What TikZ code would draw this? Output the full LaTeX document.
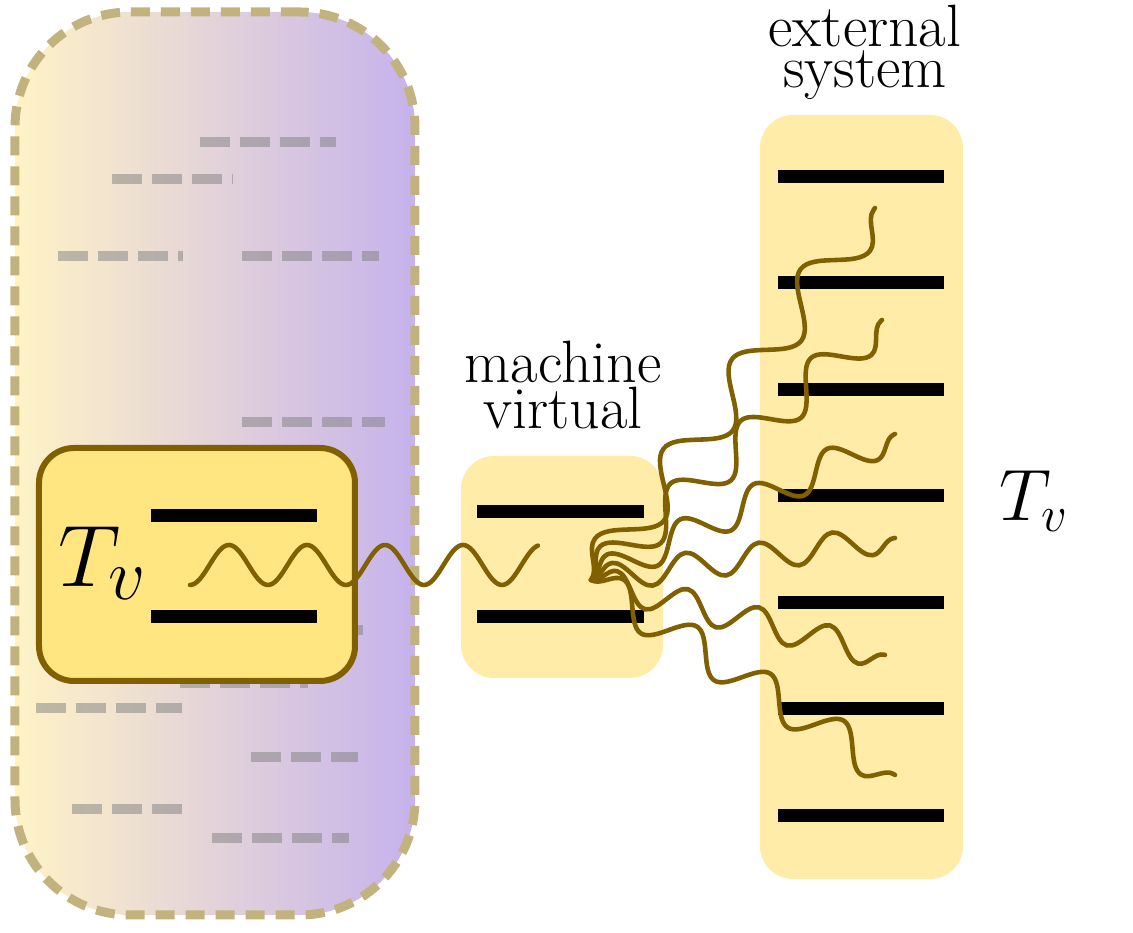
\documentclass[tikz,border=0pt]{standalone}
\usepackage{amsmath}
\usepackage{tikz}
\usetikzlibrary{decorations.pathmorphing}
\definecolor{wavebrown}{HTML}{806000}
\definecolor{hulldash}{HTML}{C2B27E}
\definecolor{boxgold}{HTML}{FFE680}
\definecolor{boxpale}{HTML}{FFECA8}
\definecolor{hullleft}{HTML}{FFF3C6}
\definecolor{hullright}{HTML}{C6B2EC}

\begin{document}
\begin{tikzpicture}[
  level/.style={line width=0.13cm},
  ghost/.style={draw=black!50,draw opacity=0.5,line width=0.1cm,dash pattern=on 0.3cm off 0.1cm},
  photon/.style={draw=wavebrown,line width=1.3pt,line cap=round},
  palebox/.style={rectangle,rounded corners=0.33cm,fill=boxpale,inner sep=0pt},
  caption/.style={align=center,font=\fontsize{17}{11.6}\selectfont,inner sep=0pt}]
  \useasboundingbox (0,0) rectangle (11.33,9.33);
  % reservoir with faded levels
  \node[rectangle,rounded corners=1.15cm,minimum width=4cm,minimum height=9.03cm,
    left color=hullleft,right color=hullright,draw=hulldash,line width=0.09cm,
    dash pattern=on 0.19cm off 0.11cm] (bath) at (2.15,4.695) {};
  \foreach \xa/\xb/\y in {2.00/3.36/7.91, 1.12/2.33/7.54, 0.58/1.83/6.77,
      2.42/3.79/6.77, 2.42/3.85/5.11, 2.30/3.63/3.03, 1.80/3.08/2.50,
      0.36/1.82/2.25, 2.51/3.58/1.76, 0.72/1.82/1.24, 2.12/3.49/0.95}
    \draw[ghost] (\xa,\y) -- (\xb,\y);
  % boxes
  \node[rectangle,rounded corners=0.35cm,minimum width=3.16cm,minimum height=2.33cm,
    fill=boxgold,draw=wavebrown,line width=0.06cm] (sys) at (1.97,3.685) {};
  \node[palebox,minimum width=2.02cm,minimum height=2.22cm] (vm) at (5.62,3.66) {};
  \node[palebox,minimum width=2.03cm,minimum height=7.64cm] (ext) at (8.615,4.36) {};
  % levels
  \draw[level] (1.51,4.17) -- (3.17,4.17);
  \draw[level] (1.51,3.16) -- (3.17,3.16);
  \draw[level] (4.77,4.21) -- (6.44,4.21);
  \draw[level] (4.77,3.16) -- (6.44,3.16);
  \foreach \y in {7.565,6.50,5.435,4.37,3.305,2.24,1.175}
    \draw[level] (7.78,\y) -- (9.44,\y);
  % photons
  \draw[photon] plot[domain=1.9:5.38,samples=150] (\x,{3.68-0.2*cos(360*(\x-1.9)/0.78)});
  \coordinate (src) at (5.91,3.53);
  \foreach \ex/\ey/\amp/\seg [count=\i] in {8.75/7.25/0.22/1.130, 8.82/6.13/0.19/0.942,
      8.95/4.99/0.16/0.814, 8.95/3.95/0.14/0.741, 8.85/2.78/0.15/0.733, 8.95/1.58/0.18/0.872} {
    \coordinate (out\i) at (\ex,\ey);
    \draw[photon,decorate,decoration={snake,amplitude=\amp cm,segment length=\seg cm}]
      (src) -- (out\i);
  }
  % labels
  \node[caption] (vmlabel) at (5.63,5.48) {machine\\virtual};
  \node[caption] (extlabel) at (8.65,8.81) {external\\system};
  \node[inner sep=0pt] (tsys) at (1.03,3.70) {\Huge $T_v$};
  \node[inner sep=0pt] (text) at (10.34,4.32) {\huge $T_v$};
\end{tikzpicture}
\end{document}
